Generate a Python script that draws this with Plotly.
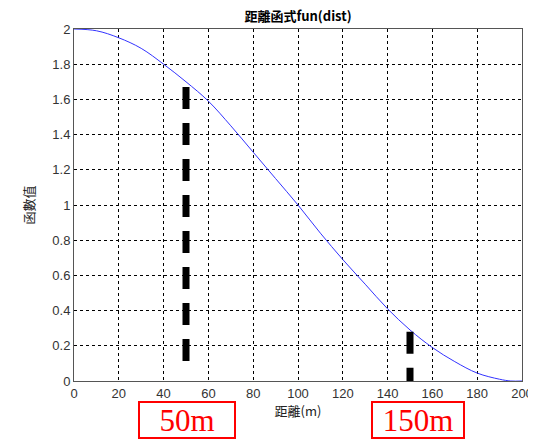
import plotly.graph_objects as go

dist = [0, 10, 20, 30, 40, 50, 60, 70, 80, 90, 100, 110, 120, 130, 140, 150, 160, 170, 180, 190, 195, 200]
fun = [2.0, 1.99, 1.95, 1.89, 1.80, 1.70, 1.59, 1.45, 1.30, 1.15, 1.0, 0.84, 0.69, 0.55, 0.41, 0.29, 0.19, 0.11, 0.045, 0.01, 0.0, 0.0]

mark_x = [50, 150]
mark_top = [1.67, 0.28]
mark_bottom = [0.1, 0.0]
mark_labels = ["50m", "150m"]

x_ticks = [0, 20, 40, 60, 80, 100, 120, 140, 160, 180, 200]
y_ticks = [0, 0.2, 0.4, 0.6, 0.8, 1, 1.2, 1.4, 1.6, 1.8, 2]

fig = go.Figure()
fig.add_trace(go.Scatter(x=dist, y=fun, mode="lines", line=dict(color="#3333ff", width=1, shape="spline"),
                         showlegend=False))
for mx, t, b in zip(mark_x, mark_top, mark_bottom):
    fig.add_trace(go.Scatter(x=[mx, mx], y=[t, b], mode="lines",
                             line=dict(color="black", width=7, dash="22px,14px"), showlegend=False))

# page has an 8px body margin
OFF = 8
W, H = 536 - OFF, 441 - OFF
L, R, T, B = 74 - OFF, 14, 29 - OFF, 60
pw = W - L - R
ph = H - T - B
box_centers_px = [187, 418]
box_widths = [92, 88]
for cx, bw, lab in zip(box_centers_px, box_widths, mark_labels):
    fig.add_annotation(x=(cx - OFF - L) / pw, y=-(420 - OFF - (H - B)) / ph, xref="paper", yref="paper",
                       text=lab, showarrow=False,
                       font=dict(family="Liberation Serif", size=31, color="red"),
                       bordercolor="red", borderwidth=2, bgcolor="white",
                       width=bw, height=32, xanchor="center", yanchor="middle")

fig.update_layout(
    width=W, height=H, margin=dict(l=L, r=R, t=T, b=B, autoexpand=False),
    paper_bgcolor="white", plot_bgcolor="white",
    title=dict(text="<b>距離函式fun(dist)</b>", x=(L + pw / 2) / W, xanchor="center", y=1 - (16.5 - OFF) / H,
               yanchor="middle",
               font=dict(family="Noto Sans CJK TC", size=13, color="black"), automargin=False),
    font=dict(family="Liberation Sans", size=13, color="#333"),
)
fig.update_xaxes(range=[0, 200], tickvals=x_ticks, showgrid=True, gridcolor="black", griddash="3px,3px",
                 gridwidth=1, showline=True, linecolor="#555", linewidth=1, mirror=True, zeroline=False,
                 automargin=False,
                 ticks="", title=dict(text="距離(m)", font=dict(family="Noto Sans CJK TC", size=13, color="#222"),
                                      standoff=4))
fig.update_yaxes(range=[0, 2], tickvals=y_ticks, showgrid=True, gridcolor="black", griddash="3px,3px",
                 gridwidth=1, showline=True, linecolor="#555", linewidth=1, mirror=True, zeroline=False,
                 automargin=False,
                 ticks="", title=dict(text="函數值", font=dict(family="Noto Sans CJK TC", size=13, color="#222"),
                                      standoff=14))
fig.write_html("out.html")
